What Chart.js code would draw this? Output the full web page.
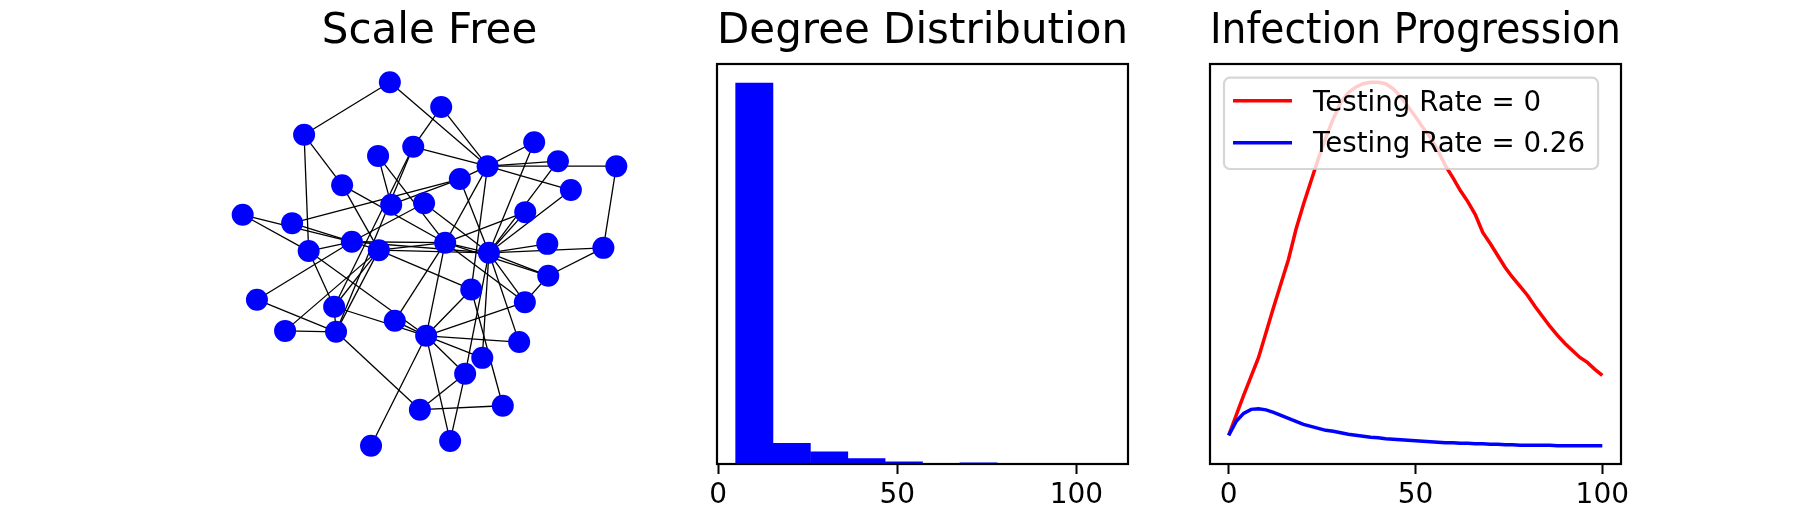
<!DOCTYPE html>
<html>
<head>
<meta charset="utf-8">
<script src="https://cdn.jsdelivr.net/npm/chart.js@4/dist/chart.umd.min.js"></script>
<style>
  body { margin: 0; background: #fff; }
  #fig { position: relative; width: 1800px; height: 530px; }
  .panel { position: absolute; top: 0; width: 493px; height: 530px; }
</style>
</head>
<body>
<div id="fig">
  <div class="panel" style="left:183px"><canvas id="network"></canvas></div>
  <div class="panel" style="left:676px"><canvas id="degree"></canvas></div>
  <div class="panel" style="left:1169px"><canvas id="infection"></canvas></div>
</div>
<script>
var FONT = '"DejaVu Sans", sans-serif';

// Scale free network: node layout positions and edges (node index pairs)
var nodeX = [-0.205, 0.065, -0.656, 0.554, -0.082, -0.267, 0.309, 0.679, 0.986, 0.163,
             -0.456, 0.747, -0.198, -0.025, -0.979, -0.719, 0.507, -0.405, -0.263, 0.086,
             -0.632, 0.316, 0.623, 0.918, 0.628, 0.223, -0.904, -0.498, 0.505, -0.756,
             -0.488, -0.179, -0.014, 0.475, 0.281, 0.191, -0.047, 0.389, -0.304, 0.112];
var nodeY = [0.956, 0.825, 0.679, 0.640, 0.616, 0.568, 0.514, 0.540, 0.514, 0.446,
             0.414, 0.388, 0.311, 0.319, 0.258, 0.214, 0.272, 0.116, 0.072, 0.111,
             0.067, 0.058, 0.105, 0.084, -0.063, -0.135, -0.189, -0.226, -0.202, -0.353,
             -0.358, -0.300, -0.379, -0.412, -0.495, -0.579, -0.768, -0.747, -0.958, -0.933];
var edges = [[0,2],[0,6],[1,6],[1,4],[4,6],[4,27],[4,30],[2,10],[2,20],[3,6],[3,21],[5,12],
             [5,19],[6,7],[6,8],[6,11],[6,9],[6,19],[6,25],[7,21],[8,23],[9,12],[9,15],[9,21],
             [10,18],[10,19],[11,21],[13,17],[13,21],[14,17],[14,20],[15,18],[16,19],[16,21],
             [17,19],[17,21],[17,26],[17,20],[18,19],[18,21],[18,25],[18,27],[18,29],[18,30],
             [19,21],[19,24],[19,28],[19,31],[19,32],[20,27],[20,32],[21,22],[21,23],[21,24],
             [21,28],[21,33],[21,34],[21,35],[23,24],[24,28],[25,32],[25,37],[26,30],[27,30],
             [27,32],[28,32],[29,30],[30,36],[31,32],[32,33],[32,34],[32,35],[32,38],[32,39],
             [35,36],[35,39],[36,37]];

// Degree distribution histogram
var degreeBinEdges = [4.9, 15.3, 25.8, 36.2, 46.6, 57.1, 67.5, 77.9, 88.3, 98.8, 109.2];
var degreeCounts = [900, 49, 29, 13, 5, 0, 3, 0, 0, 1];

// Infection progression
var days = [0, 2, 4, 6, 8, 10, 12, 14, 16, 18, 20, 22, 24, 26, 28, 30, 32, 34, 36, 38, 40,
            42, 44, 46, 48, 50, 52, 54, 56, 58, 60, 62, 64, 66, 68, 70, 72, 74, 76, 78, 80,
            82, 84, 86, 88, 90, 92, 94, 96, 98, 100];
var infectedNoTesting = [58, 98, 138, 176, 214, 264, 314, 362, 410, 470, 520, 566, 612, 654,
                         692, 724, 744, 755, 762, 765, 765, 762, 752, 736, 716, 696, 674, 654,
                         628, 598, 574, 548, 526, 500, 464, 442, 418, 394, 374, 356, 338, 316,
                         296, 276, 258, 242, 228, 214, 204, 190, 178];
var infectedTesting = [58, 86, 102, 110, 111, 109, 104, 98, 92, 86, 80, 76, 72, 68, 66, 63,
                       60, 58, 56, 54, 53, 51, 50, 49, 48, 47, 46, 45, 44, 43, 43, 42, 42, 41,
                       41, 40, 40, 39, 39, 38, 38, 38, 38, 38, 37, 37, 37, 37, 37, 37, 37];
var seriesLabels = ['Testing Rate = 0', 'Testing Rate = 0.26'];
var xTicks = [0, 50, 100];

// matplotlib style autoscale: 5% margin on each side
function padRange(values) {
  var lo = Math.min.apply(null, values), hi = Math.max.apply(null, values);
  var m = (hi - lo) * 0.05;
  return [lo - m, hi + m];
}

var framePlugin = {
  id: 'frame',
  afterDraw: function (chart) {
    var a = chart.chartArea, ctx = chart.ctx;
    ctx.save();
    ctx.strokeStyle = '#000';
    ctx.lineWidth = 2.2;
    ctx.strokeRect(a.left, a.top, a.right - a.left, a.bottom - a.top);
    ctx.restore();
  }
};

var insetLegend = {
  id: 'insetLegend',
  afterDatasetsDraw: function (chart) {
    var a = chart.chartArea, ctx = chart.ctx;
    var sets = chart.data.datasets;
    ctx.save();
    ctx.font = '27.7px ' + FONT;
    var textW = 0;
    sets.forEach(function (ds) { textW = Math.max(textW, ctx.measureText(ds.label).width); });
    var x0 = a.left + 14, y0 = a.top + 13.7, textX = a.left + 103;
    var w = textX - x0 + textW + 13, h = 91.3, r = 6;
    ctx.beginPath();
    ctx.moveTo(x0 + r, y0);
    ctx.arcTo(x0 + w, y0, x0 + w, y0 + h, r);
    ctx.arcTo(x0 + w, y0 + h, x0, y0 + h, r);
    ctx.arcTo(x0, y0 + h, x0, y0, r);
    ctx.arcTo(x0, y0, x0 + w, y0, r);
    ctx.closePath();
    ctx.fillStyle = 'rgba(255,255,255,0.8)';
    ctx.fill();
    ctx.strokeStyle = 'rgba(204,204,204,0.8)';
    ctx.lineWidth = 2.2;
    ctx.stroke();
    sets.forEach(function (ds, i) {
      var yl = y0 + 23 + i * 42;
      ctx.strokeStyle = ds.borderColor;
      ctx.lineWidth = ds.borderWidth;
      ctx.beginPath();
      ctx.moveTo(a.left + 23, yl);
      ctx.lineTo(a.left + 82, yl);
      ctx.stroke();
      ctx.fillStyle = '#000';
      ctx.textBaseline = 'alphabetic';
      ctx.fillText(ds.label, textX, y0 + 33 + i * 41);
    });
    ctx.restore();
  }
};

function baseOptions(title) {
  return {
    animation: false,
    responsive: true,
    maintainAspectRatio: false,
    layout: { padding: { left: 41, right: 41, top: 0, bottom: 0 } },
    plugins: {
      legend: { display: false },
      tooltip: { enabled: false },
      title: {
        display: true, text: title, color: '#000',
        font: { family: FONT, size: 42, weight: 'normal', lineHeight: 1.2 },
        padding: { top: 7, bottom: 6.6 }
      }
    }
  };
}

function xAxis(range) {
  return {
    type: 'linear', min: range[0], max: range[1], offset: false,
    afterBuildTicks: function (axis) { axis.ticks = xTicks.map(function (v) { return { value: v }; }); },
    afterFit: function (axis) { axis.height = 66; },
    grid: { offset: false, drawOnChartArea: false, drawTicks: true, tickLength: 10, tickWidth: 2, tickColor: '#000' },
    border: { display: false },
    ticks: { color: '#000', padding: 5, maxRotation: 0, autoSkip: false, font: { family: FONT, size: 28 } }
  };
}

// --- Scale Free network
var nodePoints = nodeX.map(function (x, i) { return { x: x, y: nodeY[i] }; });
var netSets = [{
  data: nodePoints, pointRadius: 11, pointBackgroundColor: '#0000ff',
  pointBorderWidth: 0, showLine: false, order: 0
}];
edges.forEach(function (e) {
  netSets.push({
    data: [nodePoints[e[0]], nodePoints[e[1]]], showLine: true,
    borderColor: '#000', borderWidth: 1.3, pointRadius: 0, order: 1
  });
});
var netOpts = baseOptions('Scale Free');
netOpts.layout.padding.bottom = 66;
var xr = padRange(nodeX), yr = padRange(nodeY);
netOpts.scales = {
  x: { type: 'linear', display: false, min: xr[0], max: xr[1] },
  y: { type: 'linear', display: false, min: yr[0], max: yr[1] }
};
new Chart(document.getElementById('network'), { type: 'scatter', data: { datasets: netSets }, options: netOpts });

// --- Degree Distribution histogram
var histData = degreeCounts.map(function (c, i) {
  return { x: (degreeBinEdges[i] + degreeBinEdges[i + 1]) / 2, y: c };
});
var histOpts = baseOptions('Degree Distribution');
histOpts.scales = {
  x: xAxis(padRange(degreeBinEdges)),
  y: { type: 'linear', display: false, min: 0, max: Math.max.apply(null, degreeCounts) * 1.05 }
};
new Chart(document.getElementById('degree'), {
  type: 'bar',
  data: { datasets: [{ data: histData, backgroundColor: '#0000ff', borderWidth: 0, barPercentage: 1, categoryPercentage: 1 }] },
  options: histOpts,
  plugins: [framePlugin]
});

// --- Infection Progression
var lineOpts = baseOptions('Infection Progression');
lineOpts.scales = {
  x: xAxis(padRange(days)),
  y: (function () {
    var r = padRange(infectedNoTesting.concat(infectedTesting));
    return { type: 'linear', display: false, min: r[0], max: r[1] };
  })()
};
new Chart(document.getElementById('infection'), {
  type: 'line',
  data: {
    datasets: [
      { label: seriesLabels[0], data: days.map(function (d, i) { return { x: d, y: infectedNoTesting[i] }; }),
        borderColor: '#ff0000', borderWidth: 3.5, pointRadius: 0, fill: false, tension: 0, order: 1 },
      { label: seriesLabels[1], data: days.map(function (d, i) { return { x: d, y: infectedTesting[i] }; }),
        borderColor: '#0000ff', borderWidth: 3.5, pointRadius: 0, fill: false, tension: 0, order: 0 }
    ]
  },
  options: lineOpts,
  plugins: [insetLegend, framePlugin]
});
</script>
</body>
</html>
